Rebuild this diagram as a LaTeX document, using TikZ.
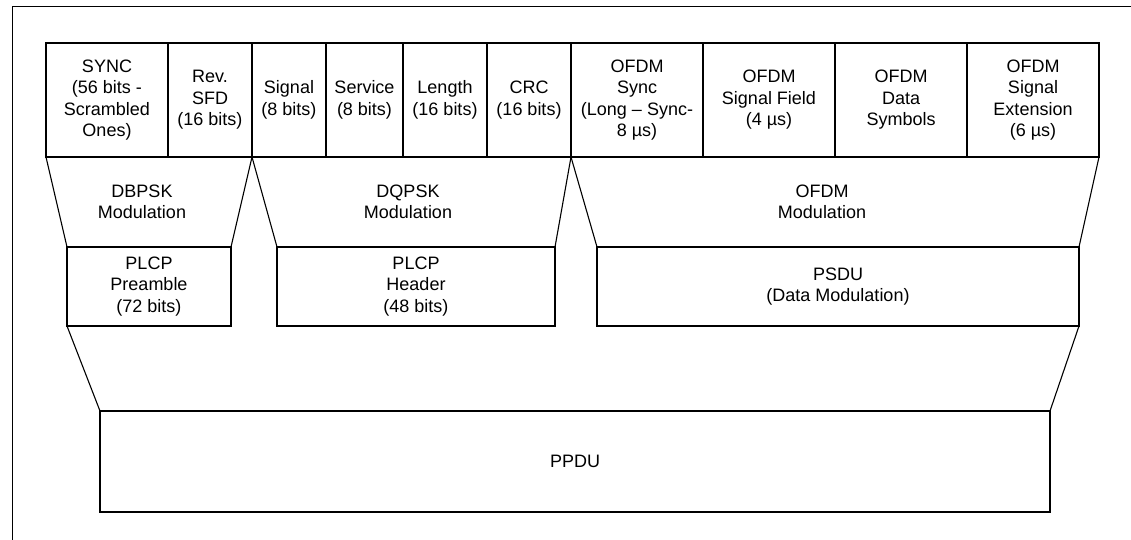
\documentclass[tikz,border=0pt]{standalone}
\usepackage{fontspec}
\setmainfont{Liberation Sans}
\usetikzlibrary{positioning}

\begin{document}
\begin{tikzpicture}[x=1pt, y=-1pt, line width=1.1pt,
    field/.style={draw, rectangle, inner sep=0pt, outer sep=0pt, align=center,
        anchor=north west, minimum height=114pt, font=\fontsize{18}{21.5}\selectfont},
    unit/.style={field, minimum height=79pt},
    modtext/.style={align=center, font=\fontsize{18}{21.5}\selectfont}]
    \useasboundingbox (0,0) rectangle (1131,540);

    % --- Page frame ---
    \draw[line width=1pt] (12,540) -- (12,7) -- (1131,7);

    % --- Top row: fields ---
    \node[field, minimum width=122pt] (sync)     at (46,43)  {SYNC\\(56 bits -\\Scrambled\\Ones)};
    \node[field, minimum width=84pt]  (sfd)      at (168,43) {Rev.\\SFD\\(16 bits)};
    \node[field, minimum width=74pt]  (signal)   at (252,43) {Signal\\(8 bits)};
    \node[field, minimum width=77pt]  (service)  at (326,43) {Service\\(8 bits)};
    \node[field, minimum width=84pt]  (length)   at (403,43) {Length\\(16 bits)};
    \node[field, minimum width=84pt]  (crc)      at (487,43) {CRC\\(16 bits)};
    \node[field, minimum width=132pt] (ofdmsync) at (571,43) {OFDM\\Sync\\(Long -- Sync-\\8 µs)};
    \node[field, minimum width=132pt] (sigfield) at (703,43) {OFDM\\Signal Field\\(4 µs)};
    \node[field, minimum width=132pt] (datasym)  at (835,43) {OFDM\\Data\\Symbols};
    \node[field, minimum width=132pt] (sigext)   at (967,43) {OFDM\\Signal\\Extension\\(6 µs)};

    % --- Middle row: PLCP parts ---
    \node[unit, minimum width=164pt] (preamble) at (67,247)  {PLCP\\Preamble\\(72 bits)};
    \node[unit, minimum width=278pt] (header)   at (277,247) {PLCP\\Header\\(48 bits)};
    \node[unit, minimum width=482pt] (psdu)     at (597,247) {PSDU\\(Data Modulation)};

    % --- Modulation labels ---
    \node[modtext] (dbpsk)   at (142,202) {DBPSK\\Modulation};
    \node[modtext] (dqpsk)   at (408,202) {DQPSK\\Modulation};
    \node[modtext] (ofdmmod) at (822,202) {OFDM\\Modulation};

    % --- Bottom: PPDU ---
    \node[field, minimum width=950pt, minimum height=101pt] (ppdu) at (100,411) {PPDU};

    % --- Funnel edges ---
    \draw (sync.south west) -- (preamble.north west);
    \draw (sfd.south east) -- (preamble.north east);
    \draw (signal.south west) -- (header.north west);
    \draw (crc.south east) -- (header.north east);
    \draw (ofdmsync.south west) -- (psdu.north west);
    \draw (sigext.south east) -- (psdu.north east);
    \draw (preamble.south west) -- (ppdu.north west);
    \draw (psdu.south east) -- (ppdu.north east);

\end{tikzpicture}
\end{document}
